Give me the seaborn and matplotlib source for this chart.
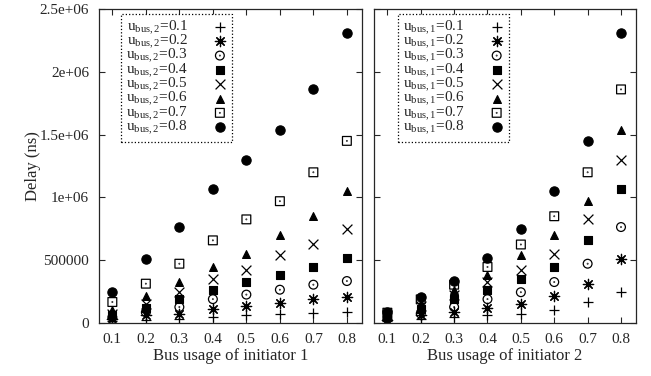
import matplotlib
matplotlib.use('Agg')
from matplotlib import pyplot as plt
from matplotlib.path import Path
import seaborn as sns
import pandas as pd

usage = [0.1, 0.2, 0.3, 0.4, 0.5, 0.6, 0.7, 0.8]

# delay in ns, one list per u_bus,2 level, indexed by u_bus,1
delay_u2_01 = [16e3, 25e3, 35e3, 48e3, 61e3, 74e3, 82e3, 88e3]
delay_u2_02 = [30e3, 61e3, 74e3, 114e3, 133e3, 159e3, 188e3, 207e3]
delay_u2_03 = [45e3, 85e3, 127e3, 190e3, 226e3, 265e3, 305e3, 334e3]
delay_u2_04 = [65e3, 120e3, 190e3, 265e3, 330e3, 380e3, 446e3, 518e3]
delay_u2_05 = [74e3, 154e3, 245e3, 350e3, 425e3, 540e3, 625e3, 745e3]
delay_u2_06 = [105e3, 215e3, 326e3, 446e3, 550e3, 698e3, 850e3, 1048e3]
delay_u2_07 = [167e3, 313e3, 472e3, 658e3, 825e3, 970e3, 1200e3, 1450e3]
delay_u2_08 = [247e3, 507e3, 764e3, 1064e3, 1300e3, 1540e3, 1860e3, 2310e3]

ytick_vals = [0, 5e5, 1e6, 1.5e6, 2e6, 2.5e6]
ytick_labels = ['0', '500000', '1e+06', '1.5e+06', '2e+06', '2.5e+06']
xtick_labels = ['0.1', '0.2', '0.3', '0.4', '0.5', '0.6', '0.7', '0.8']

rows = []
for u2, col in zip(usage, [delay_u2_01, delay_u2_02, delay_u2_03, delay_u2_04,
                           delay_u2_05, delay_u2_06, delay_u2_07, delay_u2_08]):
    for u1, d in zip(usage, col):
        rows.append([u1, u2, d])
df = pd.DataFrame(rows, columns=['u1', 'u2', 'delay'])

sns.set_style('ticks')
plt.rcParams['font.family'] = ['Liberation Serif', 'DejaVu Serif']
plt.rcParams['mathtext.fontset'] = 'custom'
plt.rcParams['mathtext.rm'] = 'Liberation Serif'
plt.rcParams['mathtext.it'] = 'Liberation Serif:italic'
plt.rcParams['font.size'] = 11

# gnuplot style point types
sq = Path([(-1, -1), (1, -1), (1, 1), (-1, 1), (-1, -1)],
          [Path.MOVETO, Path.LINETO, Path.LINETO, Path.LINETO, Path.CLOSEPOLY])
dot = Path.circle((0, 0), 0.07)
circ_dot = Path.make_compound_path(Path.unit_circle(), dot)
sq_dot = Path.make_compound_path(sq, dot)
# marker, kind ('line', 'open', 'filled'), size
styles = [
    ('+', 'line', 60),
    ((8, 2, 0), 'line', 55),
    (circ_dot, 'open', 40),
    ('s', 'filled', 40),
    ('x', 'line', 50),
    ('^', 'filled', 32),
    (sq_dot, 'open', 40),
    ('o', 'filled', 45),
]

fig = plt.figure(figsize=(6.51, 3.76), dpi=100)
ax1 = fig.add_axes([0.152, 0.141, 0.404, 0.835])
ax2 = fig.add_axes([0.5745, 0.141, 0.4025, 0.835])

for ax, xcol, hcol, idx in [(ax1, 'u1', 'u2', 2), (ax2, 'u2', 'u1', 1)]:
    for lvl, (m, kind, s) in zip(usage, styles):
        sub = df[df[hcol] == lvl]
        lab = r'u$_{\mathrm{bus},%d}$=%.1f' % (idx, lvl)
        if kind == 'filled':
            sns.scatterplot(data=sub, x=xcol, y='delay', ax=ax, marker=m, s=s,
                            color='black', edgecolor='black', linewidth=0.8, label=lab)
        elif kind == 'open':
            sns.scatterplot(data=sub, x=xcol, y='delay', ax=ax, marker=m, s=s,
                            facecolor='none', edgecolor='black', linewidth=0.9, label=lab)
        else:
            sns.scatterplot(data=sub, x=xcol, y='delay', ax=ax, marker=m, s=s,
                            color='black', linewidth=0.9, label=lab)
    ax.set_xlim(0.06, 0.845)
    ax.set_ylim(0, 2.5e6)
    ax.set_xticks(usage)
    ax.set_xticklabels(xtick_labels)
    ax.set_yticks(ytick_vals)
    ax.tick_params(direction='in', top=True, right=True, length=4, width=0.8,
                   labelsize=11, pad=7)
    for sp in ax.spines.values():
        sp.set_linewidth(0.9)
    leg = ax.legend(loc='upper left', bbox_to_anchor=(0.085 if idx == 2 else 0.092, 0.984),
                    markerfirst=False, frameon=True, fancybox=False, framealpha=1,
                    edgecolor='black', fontsize=11, labelspacing=-0.25, handletextpad=1.6,
                    borderpad=0.3, borderaxespad=0, scatterpoints=1, handlelength=1.0)
    leg.get_frame().set_linestyle(':')
    leg.get_frame().set_linewidth(0.9)

ax1.set_yticklabels(ytick_labels)
ax2.set_yticklabels([])
ax1.set_xlabel('Bus usage of initiator 1', fontsize=12, labelpad=2)
ax2.set_xlabel('Bus usage of initiator 2', fontsize=12, labelpad=2)
ax1.set_ylabel('Delay (ns)', fontsize=12, labelpad=-1)
ax2.set_ylabel('')

fig.savefig('out.png', dpi=100)
